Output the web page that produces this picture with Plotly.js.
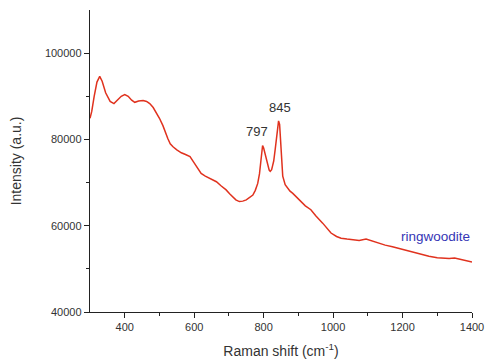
<!DOCTYPE html>
<html><head><meta charset="utf-8">
<script src="https://cdn.plot.ly/plotly-3.0.1.min.js"></script>
<style>html,body{margin:0;padding:0;background:#fff}#c{width:486px;height:363px}</style>
</head><body><div id="c"></div>
<script>
const ramanShift = [300,305,312,320,328,335,345,358,369,380,390,400,410,420,429,440,453,463,472,482,491,500,510,517,524,531,539,550,563,575,588,598,606,613,620,632,644,655,664,678,692,702,711,720,730,740,750,760,769,776,783,788,791,794,797,800,804,807,812,816,819,823,826,829,833,837,840,843,846,849,852,855,862,869,876,884,893,900,913,920,936,950,970,985,994,1010,1023,1040,1056,1075,1095,1110,1133,1150,1171,1190,1219,1240,1276,1300,1334,1350,1367,1380,1396,1400];
const intensity = [84900,86500,90000,93300,94600,93500,90800,88800,88300,89200,90000,90400,90000,89100,88600,88900,89000,88800,88300,87400,86300,84900,83200,81600,80200,79000,78300,77600,76900,76500,76000,74800,73700,72800,72100,71500,71000,70600,70200,69200,68300,67400,66700,66000,65600,65700,66000,66500,67100,68200,69800,72000,74400,77000,78600,78000,76600,75800,74000,72900,72600,73000,74000,75000,77500,80500,83000,84300,83500,80000,75000,71500,69500,68700,68000,67500,66800,66200,65000,64600,63700,62300,60600,59000,58300,57500,57100,56900,56700,56600,56900,56500,56000,55500,55100,54700,54000,53500,52900,52600,52400,52500,52200,52000,51700,51600];
const peakLabels = ["797","845"];
const peakX = [782,848];
const peakY = [81900,87470];
const sampleName = "ringwoodite";
const xTicks = [400,600,800,1000,1200,1400];
const yTicks = [40000,60000,80000,100000];

const font = {family:"Liberation Sans, Arial, sans-serif", size:11, color:"#333"};
const annotations = peakLabels.map((t,i)=>({x:peakX[i], y:peakY[i], text:t, showarrow:false, font:{family:font.family,size:13,color:"#333"}}));
annotations.push({x:1296, y:57480, text:sampleName, showarrow:false, font:{family:font.family,size:13.5,color:"#3535b5"}});

Plotly.newPlot("c", [{
  x: ramanShift, y: intensity, type:"scatter", mode:"lines",
  line:{color:"#e0321e", width:1.5}
}], {
  width:486, height:363,
  margin:{l:90, r:13.5, t:10, b:50.7},
  paper_bgcolor:"#fff", plot_bgcolor:"#fff",
  showlegend:false,
  font: font,
  xaxis:{range:[300,1400], tickvals:xTicks, showline:true, linecolor:"#222", linewidth:1.2,
    ticks:"outside", ticklen:5, tickcolor:"#222", showgrid:false, zeroline:false,
    minor:{tickvals:[500,700,900,1100,1300], ticks:"outside", ticklen:3, tickcolor:"#222"},
    tickfont:font,
    title:{text:"Raman shift (cm<sup>-1</sup>)", font:{family:font.family,size:14,color:"#333"}, standoff:13}},
  yaxis:{range:[40000,110000], tickvals:yTicks, showline:true, linecolor:"#222", linewidth:1.2,
    ticks:"outside", ticklen:5, tickcolor:"#222", showgrid:false, zeroline:false,
    minor:{tickvals:[50000,70000,90000], ticks:"outside", ticklen:3, tickcolor:"#222"},
    tickfont:font, tickformat:"d",
    title:{text:"Intensity (a.u.)", font:{family:font.family,size:14,color:"#333"}, standoff:20}},
  annotations: annotations
}, {staticPlot:true});
</script></body></html>
